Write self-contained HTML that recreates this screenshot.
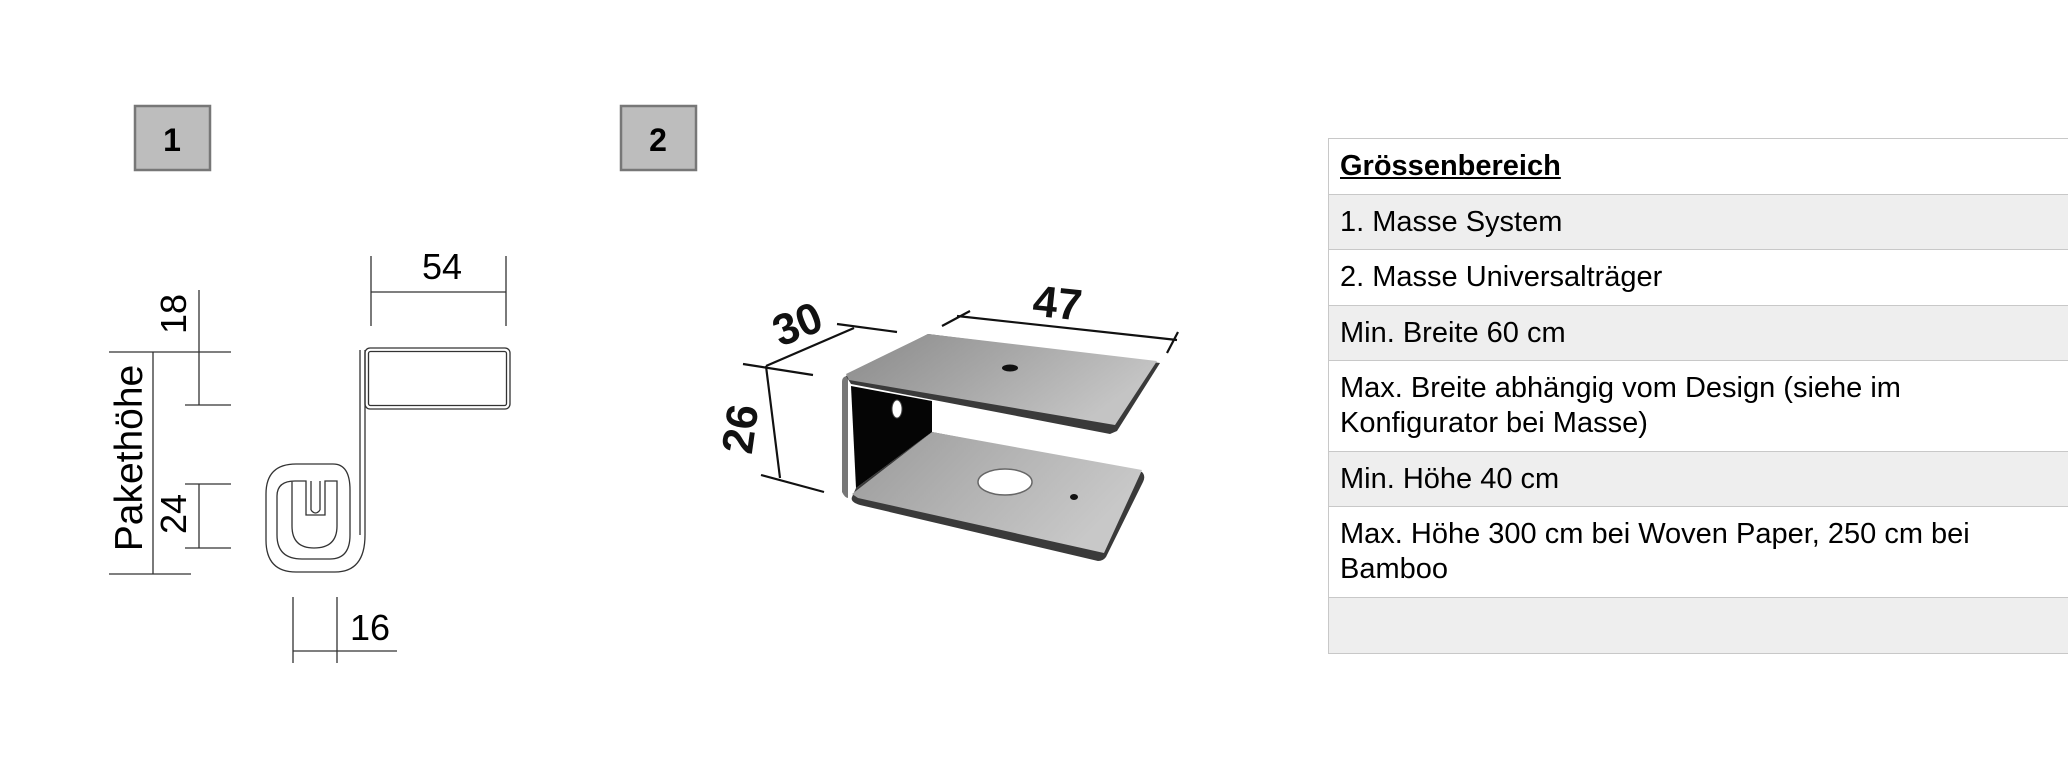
<!DOCTYPE html>
<html><head><meta charset="utf-8"><style>
html,body{margin:0;padding:0;background:#fff;}
body{width:2068px;height:758px;position:relative;overflow:hidden;font-family:"Liberation Sans",Arial,sans-serif;}
svg{position:absolute;left:0;top:0;}
.tbl{position:absolute;left:1328px;top:138px;width:760px;border-left:1.5px solid #c8c8c8;border-top:1.5px solid #c8c8c8;}
.r{box-sizing:border-box;border-bottom:1.5px solid #c8c8c8;padding:0 0 0 11px;font-size:29px;line-height:35px;color:#000;display:flex;align-items:center;}
.g{background:#eee;}
</style></head><body>
<svg width="2068" height="758" viewBox="0 0 2068 758" font-family="Liberation Sans, Arial, sans-serif">
<defs>
<linearGradient id="tp" x1="0" y1="0" x2="1" y2="0.4"><stop offset="0" stop-color="#8a8a8a"/><stop offset="0.5" stop-color="#a6a6a6"/><stop offset="1" stop-color="#c4c4c4"/></linearGradient>
<linearGradient id="bp" x1="0" y1="0" x2="1" y2="0.4"><stop offset="0" stop-color="#9a9a9a"/><stop offset="0.5" stop-color="#b2b2b2"/><stop offset="1" stop-color="#c8c8c8"/></linearGradient>
</defs>
<rect x="135" y="106" width="75" height="64" fill="#bdbdbd" stroke="#777" stroke-width="2.5"/>
<text x="172" y="151" font-size="32" font-weight="bold" text-anchor="middle">1</text>
<rect x="621" y="106" width="75" height="64" fill="#bdbdbd" stroke="#777" stroke-width="2.5"/>
<text x="658" y="151" font-size="32" font-weight="bold" text-anchor="middle">2</text>

<g stroke="#333" stroke-width="1.3" fill="none">
<line x1="371" y1="256" x2="371" y2="326"/><line x1="506" y1="256" x2="506" y2="326"/><line x1="371" y1="292" x2="506" y2="292"/>
<rect x="365" y="348" width="145" height="61" rx="5"/>
<rect x="368.5" y="351.5" width="138" height="54" rx="2"/>
<path d="M365 350 L365 535 Q365 572 335 572 L296 572 Q266 572 266 540 L266 494 Q266 464 296 464 L333 464 Q350 464 350 490 L350 535 Q350 559 330 559 L302 559 Q277 559 277 535 L277 496 Q277 481 295 481 L306 481 L306 515 L325 515 L325 481 L337 481 L337 526 Q337 548 314 548 Q292 548 292 526 L292 481"/>
<line x1="360" y1="350" x2="360" y2="535"/>
<line x1="311" y1="481" x2="311" y2="510"/><line x1="320" y1="481" x2="320" y2="510"/><path d="M311 510 Q315.5 516 320 510"/>
<line x1="199" y1="290" x2="199" y2="405"/><line x1="185" y1="405" x2="231" y2="405"/>
<line x1="109" y1="352" x2="231" y2="352"/>
<line x1="153" y1="352" x2="153" y2="574"/><line x1="109" y1="574" x2="191" y2="574"/>
<line x1="199" y1="484" x2="199" y2="548"/><line x1="185" y1="484" x2="231" y2="484"/><line x1="185" y1="548" x2="231" y2="548"/>
<line x1="293" y1="597" x2="293" y2="663"/><line x1="337" y1="597" x2="337" y2="663"/><line x1="293" y1="651" x2="397" y2="651"/>
</g>
<text x="442" y="279" font-size="36" text-anchor="middle">54</text>
<text transform="translate(186,314) rotate(-90)" font-size="36" text-anchor="middle">18</text>
<text transform="translate(186,514) rotate(-90)" font-size="36" text-anchor="middle">24</text>
<text transform="translate(142,458) rotate(-90)" font-size="39" text-anchor="middle">Pakethöhe</text>
<text x="370" y="640" font-size="36" text-anchor="middle">16</text>

<path d="M852 497 L856 488 L932 432 L1142 472 Q1146 476 1143 482 L1106 557 Q1103 561 1098 561 L860 505 Q850 502 852 497Z" fill="#3a3a3a"/>
<path d="M852 494 L932 432 L1142 470 L1104 553 L858 498Z" fill="url(#bp)"/>
<path d="M842 382 Q842 376 848 376 L848 498 Q845 498 842 492Z" fill="#777"/>
<path d="M851 386 L932 401 L932 432 L856 488Z" fill="#050505"/>
<path d="M846 376 L928 334 L1160 363 L1117 431 L1110 434 L851 384Z" fill="#3a3a3a"/>
<path d="M846 374 L928 334 L1157 361 L1115 425 L849 380Z" fill="url(#tp)"/>
<ellipse cx="1010" cy="368" rx="8" ry="3.5" fill="#111"/>
<ellipse cx="1005" cy="482" rx="27" ry="13" fill="#fff" stroke="#666" stroke-width="1.5"/>
<ellipse cx="1074" cy="497" rx="4" ry="3" fill="#111"/>
<ellipse cx="897" cy="409" rx="5" ry="9" fill="#fff" stroke="#444"/>
<g stroke="#111" stroke-width="2.2" fill="none">
<line x1="766" y1="366" x2="854" y2="328"/>
<line x1="743" y1="364" x2="813" y2="375"/><line x1="837" y1="324" x2="897" y2="332"/>
<line x1="766" y1="366" x2="780" y2="478"/>
<line x1="761" y1="475" x2="824" y2="492"/>
<line x1="957" y1="316" x2="1177" y2="340"/>
<line x1="942" y1="326" x2="970" y2="311"/><line x1="1167" y1="353" x2="1178" y2="332"/>
</g>
<text transform="translate(803,338) rotate(-22)" font-size="44" font-weight="bold" text-anchor="middle" fill="#111">30</text>
<text transform="translate(755,431) rotate(-82)" font-size="44" font-weight="bold" text-anchor="middle" fill="#111">26</text>
<text transform="translate(1056,318) rotate(6)" font-size="44" font-weight="bold" text-anchor="middle" fill="#111">47</text>
</svg>

<div class="tbl">
<div class="r" style="height:56px;font-weight:bold;text-decoration:underline;">Grössenbereich</div>
<div class="r g" style="height:55px;">1. Masse System</div>
<div class="r" style="height:56px;">2. Masse Universalträger</div>
<div class="r g" style="height:55px;">Min. Breite 60 cm</div>
<div class="r" style="height:91px;">Max. Breite abhängig vom Design (siehe im<br>Konfigurator bei Masse)</div>
<div class="r g" style="height:55px;">Min. Höhe 40 cm</div>
<div class="r" style="height:91px;">Max. Höhe 300 cm bei Woven Paper, 250 cm bei<br>Bamboo</div>
<div class="r g" style="height:56px;"></div>
</div>
</body></html>
